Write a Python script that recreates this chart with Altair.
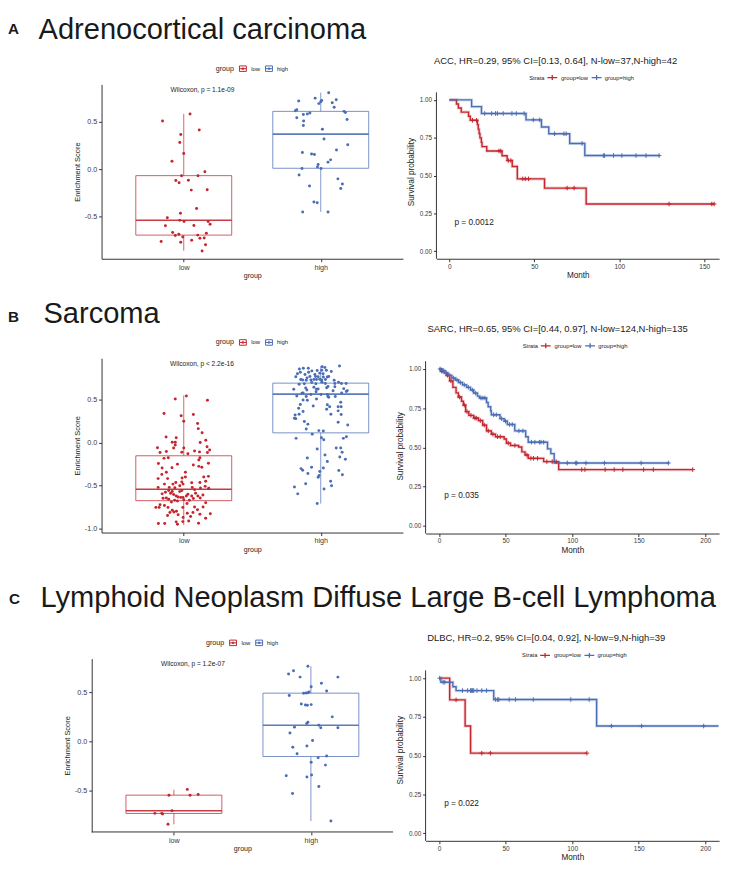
import altair as alt
import pandas as pd

# ---------------- data ----------------
GROUPS = ["low", "high"]
STRATA = ["group=low", "group=high"]

# (enrichment score, horizontal jitter) per sample
A_LOW = [(0.585, 0.046), (0.510, -0.155), (0.415, 0.113), (0.367, -0.022), (0.282, -0.029), (0.167, 0.000),
         (0.085, -0.086), (-0.027, 0.154), (-0.068, -0.016), (-0.068, 0.104), (-0.119, -0.058), (-0.143, -0.034),
         (-0.116, 0.034), (-0.221, 0.055), (-0.218, 0.171), (-0.415, 0.094), (-0.466, -0.024), (-0.514, -0.120),
         (-0.541, -0.029), (-0.554, 0.002), (-0.554, 0.178), (-0.582, 0.192), (-0.599, -0.134), (-0.595, 0.074),
         (-0.670, -0.081), (-0.701, -0.062), (-0.687, -0.036), (-0.718, -0.007), (-0.677, 0.165), (-0.697, 0.102),
         (-0.752, 0.058), (-0.731, 0.118), (-0.728, 0.149), (-0.765, -0.165), (-0.772, -0.022), (-0.799, 0.159),
         (-0.864, 0.134)]
A_HIGH = [(0.810, 0.058), (0.752, -0.041), (0.721, -0.161), (0.728, 0.007), (0.735, 0.113), (0.694, -0.014),
          (0.704, 0.084), (0.714, 0.000), (0.656, 0.098), (0.619, -0.185), (0.629, -0.175), (0.595, -0.079),
          (0.585, -0.098), (0.578, -0.127), (0.612, 0.170), (0.599, 0.180), (0.544, -0.175), (0.510, -0.125),
          (0.527, 0.192), (0.463, -0.127), (0.422, 0.012), (0.320, 0.024), (0.259, 0.197), (0.177, -0.134),
          (0.160, -0.067), (0.156, -0.046), (0.204, 0.115), (0.099, 0.072), (0.075, 0.053), (0.051, -0.019),
          (0.024, -0.024), (0.007, 0.002), (0.007, -0.137), (-0.061, -0.158), (-0.102, 0.125), (-0.156, 0.158),
          (-0.204, 0.146), (-0.177, -0.082), (-0.347, -0.050), (-0.354, -0.026), (-0.452, -0.132), (-0.452, 0.053)]
B_LOW = [(0.539, 0.019), (0.505, -0.062), (0.490, 0.173), (0.336, -0.144), (0.311, -0.019), (0.325, 0.070),
         (0.247, 0.000), (0.221, 0.101), (0.161, 0.106), (0.112, 0.134), (0.063, -0.129), (0.056, -0.055),
         (0.003, -0.084), (0.003, -0.062), (0.026, 0.161), (0.000, 0.120), (-0.060, -0.192), (-0.064, 0.000),
         (-0.030, -0.062), (-0.064, -0.074), (-0.116, -0.173), (-0.105, -0.127), (-0.113, -0.014), (-0.098, 0.079),
         (-0.109, 0.115), (-0.087, 0.189), (-0.116, 0.173), (-0.184, -0.144), (-0.176, -0.113), (-0.176, 0.118),
         (-0.202, 0.110), (-0.244, -0.185), (-0.251, -0.046), (-0.240, 0.180), (-0.296, -0.158), (-0.292, -0.086),
         (-0.277, 0.110), (-0.288, 0.132), (-0.345, -0.127), (-0.345, 0.012), (-0.419, -0.187), (-0.419, -0.118),
         (-0.412, -0.012), (-0.401, 0.012), (-0.393, 0.180), (-0.401, 0.146), (-0.483, -0.141), (-0.464, -0.058),
         (-0.457, -0.014), (-0.483, -0.005), (-0.468, 0.058), (-0.464, 0.118), (-0.509, 0.156), (-0.521, -0.187),
         (-0.521, -0.106), (-0.524, -0.065), (-0.521, 0.062), (-0.547, 0.079), (-0.528, 0.122), (-0.532, 0.182),
         (-0.596, -0.158), (-0.577, -0.134), (-0.558, -0.110), (-0.588, -0.096), (-0.569, -0.084), (-0.603, -0.074),
         (-0.622, -0.055), (-0.633, -0.041), (-0.637, -0.022), (-0.637, -0.005), (-0.622, 0.019), (-0.622, 0.058),
         (-0.588, 0.086), (-0.622, 0.103), (-0.644, 0.120), (-0.648, -0.151), (-0.644, -0.127), (-0.659, -0.110),
         (-0.671, -0.067), (-0.678, -0.046), (-0.663, 0.000), (-0.671, 0.041), (-0.723, -0.173), (-0.731, -0.141),
         (-0.708, 0.024), (-0.753, -0.204), (-0.753, -0.180), (-0.753, -0.115), (-0.787, -0.084), (-0.806, -0.072),
         (-0.813, -0.101), (-0.798, -0.053), (-0.753, -0.007), (-0.749, 0.079), (-0.749, 0.141), (-0.828, 0.194),
         (-0.846, -0.118), (-0.821, 0.026), (-0.813, 0.067), (-0.839, -0.041), (-0.858, 0.050), (-0.832, 0.118),
         (-0.940, -0.185), (-0.940, -0.139), (-0.921, -0.055), (-0.948, -0.046), (-0.918, -0.007), (-0.910, 0.036),
         (-0.936, 0.108), (-0.869, -0.005), (-0.483, -0.079), (-0.558, -0.014), (-0.502, -0.029), (-0.570, -0.030),
         (-0.600, 0.030), (-0.650, 0.070), (-0.690, -0.090), (-0.610, 0.140), (-0.700, 0.160), (-0.450, 0.160),
         (-0.370, -0.160), (-0.260, 0.070), (-0.130, 0.030), (-0.780, 0.100), (-0.880, 0.160), (-0.050, 0.170)]
B_HIGH = [(0.887, 0.137), (0.853, -0.156), (0.861, -0.127), (0.861, -0.091), (0.880, 0.010), (0.816, -0.149),
          (0.831, -0.065), (0.835, -0.026), (0.839, 0.007), (0.839, 0.041), (0.824, 0.077), (0.798, -0.170),
          (0.790, -0.115), (0.816, -0.089), (0.790, -0.043), (0.805, -0.007), (0.798, 0.017), (0.764, -0.182),
          (0.767, -0.079), (0.767, -0.038), (0.764, -0.019), (0.760, 0.019), (0.760, 0.048), (0.767, 0.058),
          (0.730, -0.146), (0.726, -0.132), (0.722, -0.106), (0.726, -0.072), (0.730, -0.050), (0.730, -0.031),
          (0.734, -0.007), (0.726, 0.007), (0.730, 0.034), (0.722, 0.098), (0.677, -0.158), (0.681, -0.120),
          (0.696, -0.065), (0.681, -0.036), (0.700, 0.010), (0.685, 0.034), (0.685, 0.103), (0.685, 0.151),
          (0.685, 0.185), (0.617, -0.197), (0.632, -0.110), (0.610, -0.101), (0.617, -0.031), (0.621, -0.019),
          (0.636, 0.043), (0.651, 0.053), (0.648, 0.103), (0.625, 0.168), (0.602, 0.194), (0.573, -0.137),
          (0.576, -0.129), (0.588, -0.034), (0.558, 0.002), (0.558, 0.048), (0.576, 0.153), (0.591, 0.187),
          (0.539, -0.175), (0.535, -0.106), (0.558, -0.072), (0.535, 0.053), (0.535, 0.106), (0.494, -0.129),
          (0.490, -0.098), (0.505, -0.031), (0.524, 0.058), (0.468, 0.146), (0.442, -0.149), (0.423, -0.055),
          (0.438, 0.048), (0.415, 0.065), (0.415, 0.127), (0.415, 0.149), (0.397, -0.161), (0.385, 0.043),
          (0.367, 0.127), (0.359, -0.129), (0.318, -0.187), (0.329, -0.158), (0.329, 0.074), (0.325, 0.149),
          (0.281, -0.192), (0.277, -0.182), (0.236, 0.127), (0.243, -0.120), (0.213, -0.094), (0.202, 0.197),
          (0.157, -0.106), (0.138, -0.014), (0.134, 0.019), (0.097, -0.062), (0.048, -0.180), (0.056, 0.005),
          (0.033, 0.022), (0.048, 0.165), (0.067, 0.187), (-0.064, 0.113), (-0.064, 0.146), (-0.075, -0.026),
          (-0.113, 0.156), (-0.146, 0.031), (-0.180, -0.098), (-0.169, 0.139), (-0.195, 0.180), (-0.221, 0.048),
          (-0.288, -0.067), (-0.296, 0.019), (-0.303, -0.144), (-0.322, -0.132), (-0.326, 0.132), (-0.337, -0.007),
          (-0.360, -0.094), (-0.375, 0.158), (-0.382, -0.012), (-0.404, -0.019), (-0.449, 0.072), (-0.479, -0.110),
          (-0.502, 0.079), (-0.517, -0.192), (-0.539, 0.024), (-0.596, -0.168), (-0.708, -0.026), (0.870, 0.030),
          (0.750, -0.100), (0.700, 0.130), (0.640, -0.050), (0.600, 0.090)]
C_LOW = [(-0.490, 0.098), (-0.549, -0.036), (-0.549, 0.118), (-0.543, 0.177), (-0.709, -0.014),
         (-0.735, -0.139), (-0.735, -0.089), (-0.742, -0.082), (-0.846, -0.043)]
C_HIGH = [(0.768, -0.022), (0.689, -0.163), (0.722, -0.127), (0.657, -0.079), (0.657, 0.197), (0.594, 0.077),
          (0.558, 0.002), (0.516, 0.115), (0.493, -0.053), (0.496, -0.022), (0.506, -0.014), (0.470, -0.158),
          (0.382, -0.070), (0.369, -0.026), (0.376, 0.002), (0.251, 0.156), (0.182, -0.031), (0.196, -0.022),
          (0.166, 0.058), (0.146, -0.120), (0.140, 0.072), (0.140, 0.197), (0.085, -0.153), (0.009, 0.012),
          (-0.059, -0.132), (-0.046, -0.029), (-0.127, -0.101), (-0.167, 0.053), (-0.150, 0.115), (-0.213, 0.002),
          (-0.242, 0.106), (-0.350, -0.180), (-0.363, -0.029), (-0.343, 0.005), (-0.461, 0.058), (-0.533, -0.134),
          (-0.814, 0.146), (0.495, -0.035), (0.372, -0.040)]

# box statistics, [low, high]: q1, median, q3, lower whisker, upper whisker
A_BOX = dict(q1=[-0.697, 0.010], med=[-0.540, 0.371], q3=[-0.068, 0.612], wlo=[-0.863, -0.452], whi=[0.586, 0.810])
B_BOX = dict(q1=[-0.675, 0.112], med=[-0.543, 0.561], q3=[-0.154, 0.689], wlo=[-0.959, -0.709], whi=[0.546, 0.887])
C_BOX = dict(q1=[-0.736, -0.154], med=[-0.709, 0.166], q3=[-0.549, 0.493], wlo=[-0.847, -0.814], whi=[-0.494, 0.768])

# Kaplan-Meier steps (month, survival) and censoring months
A_KM_LOW = [(0, 1.0), (4.2, 0.973), (5.3, 0.946), (7.0, 0.919), (11.3, 0.892), (12.3, 0.865), (16.5, 0.836),
            (17.0, 0.807), (17.5, 0.778), (18.0, 0.749), (18.8, 0.720), (19.2, 0.691), (22.0, 0.662), (31.0, 0.631),
            (34.0, 0.599), (37.0, 0.560), (40.0, 0.478), (56.0, 0.417), (80.5, 0.312), (156.0, 0.312)]
A_KM_LOW_CENS = [13.6, 16.0, 29.2, 30.2, 34.7, 36.2, 43.2, 44.7, 46.6, 69.3, 73.4, 129.3, 154.4, 155.8]
A_KM_HIGH = [(0, 1.0), (13.1, 0.955), (18.9, 0.910), (45.1, 0.868), (54.2, 0.821), (58.5, 0.776), (70.8, 0.712),
             (79.7, 0.632), (123.8, 0.632)]
A_KM_HIGH_CENS = [20.8, 24.9, 27.2, 28.3, 31.7, 36.8, 39.4, 44.0, 49.4, 53.2, 61.9, 67.4, 68.7, 78.1, 90.6, 91.3,
                  96.6, 101.5, 109.8, 115.7, 123.4]
B_KM_LOW = [(0, 1.0), (1.4, 0.986), (3.9, 0.975), (5.5, 0.959), (8.0, 0.924), (10.4, 0.883), (12.8, 0.848),
            (14.5, 0.821), (16.9, 0.794), (18.3, 0.770), (20.0, 0.728), (22.4, 0.704), (26.0, 0.687), (29.6, 0.671),
            (32.8, 0.642), (35.7, 0.605), (39.3, 0.584), (42.4, 0.568), (48.9, 0.553), (50.6, 0.527), (53.7, 0.512),
            (59.8, 0.502), (62.2, 0.471), (64.6, 0.451), (67.0, 0.430), (78.6, 0.409), (89.9, 0.358), (190.6, 0.358)]
B_KM_LOW_CENS = [2.0, 6.5, 9.0, 15.5, 19.0, 21.0, 24.0, 27.0, 28.0, 31.0, 34.0, 37.0, 40.5, 44.0, 46.0, 52.0,
                 57.0, 66.0, 69.0, 71.0, 74.0, 81.0, 85.0, 88.0, 107.2, 109.6, 124.8, 131.6, 138.1, 153.7, 161.0, 190.6]
B_KM_HIGH = [(0, 1.0), (1.9, 0.990), (4.3, 0.975), (6.7, 0.959), (9.6, 0.942), (12.3, 0.930), (14.7, 0.914),
             (17.6, 0.899), (20.7, 0.883), (23.6, 0.866), (26.0, 0.846), (28.9, 0.827), (30.4, 0.815), (35.7, 0.786),
             (36.9, 0.759), (38.8, 0.733), (39.3, 0.708), (45.8, 0.683), (48.9, 0.667), (51.3, 0.646), (56.9, 0.605),
             (65.1, 0.568), (67.0, 0.533), (81.5, 0.490), (84.0, 0.460), (86.5, 0.400), (173.0, 0.400)]
B_KM_HIGH_CENS = [0.8, 2.5, 3.5, 5.5, 8.0, 11.0, 13.5, 16.0, 19.0, 22.0, 25.0, 27.5, 31.5, 33.0, 34.5, 41.0, 43.0,
                  47.0, 50.0, 53.0, 55.0, 60.0, 63.0, 69.4, 72.0, 75.4, 76.6, 78.6, 96.4, 102.7, 103.4, 110.4, 124.3,
                  151.8, 172.3]
C_KM_LOW = [(0, 1.0), (8.0, 0.860), (19.6, 0.691), (23.7, 0.516), (111.1, 0.516)]
C_KM_LOW_CENS = [12.8, 32.1, 38.6, 111.1]
C_KM_HIGH = [(0, 1.0), (1.4, 0.974), (10.4, 0.945), (12.8, 0.920), (41.1, 0.862), (118.4, 0.691), (210.0, 0.691)]
C_KM_HIGH_CENS = [0.5, 3.1, 4.3, 17.6, 21.5, 23.7, 24.2, 24.9, 25.4, 26.1, 28.5, 32.1, 35.7, 42.5, 44.0, 44.9,
                  52.7, 57.5, 70.8, 99.0, 112.8, 129.5, 152.2, 198.8]

# ---------------- styling ----------------
RED = "#C3262E"
BLUE = "#4A6DB4"
FONT = "Liberation Sans"
TXT = "#1a1a1a"
AXC = "#333333"
ONE = pd.DataFrame({"k": [0]})
BOXSYM = "M-1,-0.8H1V0.8H-1Z M-1,0H1 M-0.2,-0.2H0.2V0.2H-0.2Z"
LINESYM = "M-1,0H1 M0,-0.5V0.5"
PLUS = "M0,-1V1 M-1,0H1"
YLAB = "datum.value < 0 ? '-' + format(-datum.value, '.1f') : format(datum.value, '.1f')"
BIG = 29.5


def txt(text, x, y, size, align="left", baseline="middle", weight="normal"):
    return alt.Chart(ONE).mark_text(text=text, font=FONT, fontSize=size, fontWeight=weight, align=align,
                                    baseline=baseline, color=TXT).encode(x=alt.value(x), y=alt.value(y))


def legend_layers(title, title_size, keys, field, scale, shape, size, sw, x0, y, sym_dx, lab_dx, lab_size):
    out = [txt(title, x0, y, title_size)]
    for k, sdx, ldx in zip(keys, sym_dx, lab_dx):
        out.append(alt.Chart(pd.DataFrame({field: [k]})).mark_point(
            shape=shape, filled=False, size=size, strokeWidth=sw, opacity=1).encode(
            x=alt.value(x0 + sdx), y=alt.value(y), color=alt.Color(f"{field}:N", scale=scale, legend=None)))
        out.append(txt(k, x0 + ldx, y, lab_size))
    return out


def box_panel(low, high, st, ydom, yticks, w, h, wil, wil_x, letter, letter_pos, title, title_pos, legend_x,
              legend_y, xlo=0.4, shift=0, spacer=None):
    pts = pd.DataFrame([{"group": "low", "pos": 1, "score": s, "jit": j} for s, j in low] +
                       [{"group": "high", "pos": 2, "score": s, "jit": j} for s, j in high])
    sd = pd.DataFrame({"group": GROUPS, "pos": [1, 2], **st})
    xs = alt.Scale(domain=[xlo, 2.6], nice=False, zero=False)
    ys = alt.Scale(domain=ydom, nice=False, zero=False)
    cs = alt.Scale(domain=GROUPS, range=[RED, BLUE])
    xax = alt.Axis(values=[1, 2], labelExpr="datum.value == 1 ? 'low' : 'high'", title="group",
                   labelFontSize=7.3, titleFontSize=7.2, labelPadding=1.5, titlePadding=1.5, labelFlush=False,
                   domain=(shift == 0), titleX=(w - shift) / 2)
    yax = alt.Axis(values=yticks, labelExpr=YLAB, title="Enrichment Score", labelFontSize=7.3,
                   titleFontSize=7.6, titlePadding=3, offset=shift)

    def X(f):
        return alt.X(f, scale=xs, axis=xax)

    def Y(f):
        return alt.Y(f, scale=ys, axis=yax)

    col = alt.Color("group:N", scale=cs, legend=None)
    whisk = alt.Chart(sd).mark_rule(strokeWidth=1, opacity=0.7).encode(x=X("pos:Q"), y=Y("wlo:Q"), y2="whi:Q", color=col)
    box = alt.Chart(sd).transform_calculate(x1="datum.pos - 0.35", x2="datum.pos + 0.35").mark_rect(
        fill="white", strokeWidth=1, strokeOpacity=0.75).encode(
        x=X("x1:Q"), x2="x2:Q", y=Y("q1:Q"), y2="q3:Q", stroke=alt.Stroke("group:N", scale=cs, legend=None))
    medl = alt.Chart(sd).transform_calculate(x1="datum.pos - 0.35", x2="datum.pos + 0.35").mark_rule(
        strokeWidth=1.6, opacity=0.9).encode(x=X("x1:Q"), x2="x2:Q", y=Y("med:Q"), color=col)
    dots = alt.Chart(pts).transform_calculate(xj="datum.pos + datum.jit").mark_circle(size=9, opacity=1).encode(
        x=X("xj:Q"), y=Y("score:Q"), color=col)
    layers = [whisk, box, medl, dots,
              txt(wil, wil_x, 6, 6.7, align="center"),
              txt(letter, letter_pos[0], letter_pos[1], 15.5, baseline="alphabetic", weight="bold"),
              txt(title, title_pos[0], title_pos[1], BIG, baseline="alphabetic")]
    layers += legend_layers("group", 7.2, GROUPS, "group", cs, BOXSYM, 49, 1, legend_x, legend_y,
                            [27.5, 54], [36, 62], 6)
    if shift:
        layers.append(alt.Chart(ONE).mark_rule(color=AXC, strokeWidth=1).encode(
            x=alt.value(-shift), x2=alt.value(w), y=alt.value(h)))
    if spacer is not None:
        layers.append(alt.Chart(ONE).mark_rule(opacity=0).encode(x=alt.value(0), y=alt.value(spacer),
                                                                 y2=alt.value(spacer + 1)))
    return alt.layer(*layers).properties(width=w, height=h)


def km_panel(low, low_c, high, high_c, xdom, xticks, ext, ha, w, title, title_pos, pval, pval_x, legend_pos):
    lines = pd.DataFrame([{"strata": STRATA[0], "t": t, "s": s} for t, s in low] +
                         [{"strata": STRATA[1], "t": t, "s": s} for t, s in high])

    def surv_at(steps, c):
        return [s for t, s in steps if t <= c][-1]

    cens = pd.DataFrame([{"strata": STRATA[0], "t": c, "s": surv_at(low, c)} for c in low_c] +
                        [{"strata": STRATA[1], "t": c, "s": surv_at(high, c)} for c in high_c])
    xs = alt.Scale(domain=xdom, nice=False, zero=False)
    ys = alt.Scale(domain=[-0.05, 1.05 + ext * 1.1 / ha], nice=False, zero=False)
    ss = alt.Scale(domain=STRATA, range=[RED, BLUE])
    xax = alt.Axis(values=xticks, format="d", title="Month", labelFontSize=6.6, titleFontSize=8.3,
                   labelPadding=1.5, titlePadding=1, labelFlush=False)
    yax = alt.Axis(values=[0, 0.25, 0.5, 0.75, 1.0], format=".2f", title="Survival probability", domain=False,
                   labelFontSize=6.4, titleFontSize=8.3, titlePadding=4)

    def X(f):
        return alt.X(f, scale=xs, axis=xax)

    def Y(f):
        return alt.Y(f, scale=ys, axis=yax)

    col = alt.Color("strata:N", scale=ss, legend=None)
    halo = alt.Chart(lines).mark_line(interpolate="step-after", strokeWidth=3.2, opacity=0.22).encode(
        x=X("t:Q"), y=Y("s:Q"), color=col)
    line = alt.Chart(lines).mark_line(interpolate="step-after", strokeWidth=1.4).encode(
        x=X("t:Q"), y=Y("s:Q"), color=col)
    cen = alt.Chart(cens).mark_point(shape=PLUS, filled=False, size=22, strokeWidth=1, opacity=1).encode(
        x=X("t:Q"), y=Y("s:Q"), color=col)
    yline = alt.Chart(ONE).mark_rule(color=AXC, strokeWidth=1).encode(
        x=alt.value(0), y=alt.datum(-0.05), y2=alt.datum(1.05))
    ptxt = alt.Chart(ONE).mark_text(text=pval, font=FONT, fontSize=8.4, align="left", baseline="middle",
                                    color=TXT).encode(x=alt.datum(pval_x), y=alt.datum(0.195))
    ttl = txt(title, title_pos[0], title_pos[1], 9.6, align="center")
    leg = legend_layers("Strata", 5.8, STRATA, "strata", ss, LINESYM, 100, 1.3, legend_pos[0], legend_pos[1],
                        [23.3, 68.3], [32.3, 76.6], 5.9)
    return alt.layer(halo, line, cen, yline, ptxt, ttl, *leg).properties(width=w, height=ext + ha)


def row(box, km, spacing):
    return alt.hconcat(box, km, spacing=spacing, bounds="flush").resolve_scale(
        color="independent", stroke="independent")


boxA = box_panel(A_LOW, A_HIGH, A_BOX, [-0.947, 0.897], [-0.5, 0, 0.5], 306, 177, "Wilcoxon, p = 1.1e-09", 102.5,
                 "A", (-95, -50.7), "Adrenocortical carcinoma", (-64, -46.3), 116, -16)
kmA = km_panel(A_KM_LOW, A_KM_LOW_CENS, A_KM_HIGH, A_KM_HIGH_CENS, [-7.6, 158.7], [0, 50, 100, 150], 8, 169,
               287, "ACC, HR=0.29, 95% CI=[0.13, 0.64], N-low=37,N-high=42", (121, -24), "p = 0.0012", 3.0,
               (94.3, -7))
boxB = box_panel(B_LOW, B_HIGH, B_BOX, [-1.045, 0.978], [-1.0, -0.5, 0, 0.5], 306, 177, "Wilcoxon, p < 2.2e-16",
                 102.0, "B", (-95, -36.6), "Sarcoma", (-59, -35.6), 116, -16)
kmB = km_panel(B_KM_LOW, B_KM_LOW_CENS, B_KM_HIGH, B_KM_HIGH_CENS, [-10.1, 210.4], [0, 50, 100, 150, 200], 3, 175,
               298, "SARC, HR=0.65, 95% CI=[0.44, 0.97], N-low=124,N-high=135", (134, -30), "p = 0.035", 3.9,
               (98.7, -12.6))
boxC = box_panel(C_LOW, C_HIGH, C_BOX, [-0.925, 0.846], [-0.5, 0, 0.5], 296, 176, "Wilcoxon, p = 1.2e-07", 92.8,
                 "C", (-94, -55), "Lymphoid Neoplasm Diffuse Large B-cell Lymphoma", (-62, -52.3), 106, -16,
                 xlo=0.472, shift=10, spacer=-86)
kmC = km_panel(C_KM_LOW, C_KM_LOW_CENS, C_KM_HIGH, C_KM_HIGH_CENS, [-10.1, 210.4], [0, 50, 100, 150, 200], 12, 173,
               298, "DLBC, HR=0.2, 95% CI=[0.04, 0.92], N-low=9,N-high=39", (122.5, -21), "p = 0.022", 3.9,
               (98, -3.3))

chart = alt.vconcat(row(boxA, kmA, 34), row(boxB, kmB, 23), row(boxC, kmC, 33), spacing=20).resolve_scale(
    color="independent", stroke="independent").properties(
    padding={"left": 0, "top": 0, "right": 0, "bottom": 0}).configure(
    font=FONT, background="white", padding={"left": 0, "top": 0, "right": 0, "bottom": 0}).configure_view(
    stroke=None).configure_axis(
    grid=False, labelFont=FONT, titleFont=FONT, labelColor="#3a3a3a", titleColor=TXT, titleFontWeight="normal",
    domainColor=AXC, tickColor=AXC, domainWidth=1, tickWidth=1, tickSize=3, labelOverlap=False)

chart.save("out.html", embed_options={"renderer": "svg", "actions": False})
